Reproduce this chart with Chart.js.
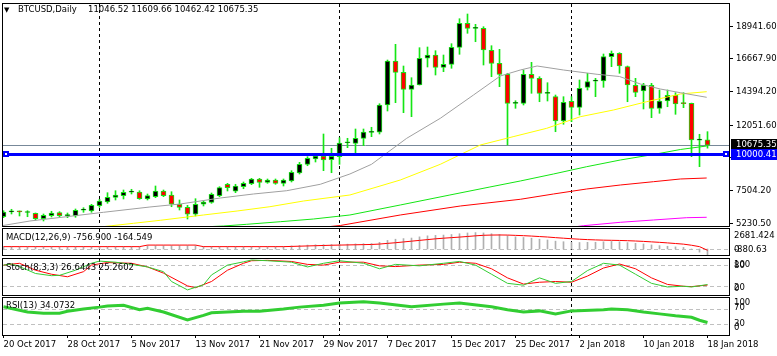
<!DOCTYPE html>
<html>
<head>
<meta charset="utf-8">
<title>BTCUSD Daily</title>
<script src="https://cdn.jsdelivr.net/npm/chart.js@4.4.1/dist/chart.umd.min.js"></script>
<style>
html,body{margin:0;padding:0;background:#fff;}
#wrap{position:relative;width:777px;height:356px;overflow:hidden;background:#fff;}
canvas{position:absolute;left:0;}
</style>
</head>
<body>
<div id="wrap">
<canvas id="cMain" width="777" height="228" style="top:0px"></canvas>
<canvas id="cMacd" width="777" height="30" style="top:226px"></canvas>
<canvas id="cStoch" width="777" height="40" style="top:256px"></canvas>
<canvas id="cRsi" width="777" height="61" style="top:295px"></canvas>
</div>
<script>
// ---------------- data ----------------
const dateLabels = ['20 Oct 2017','28 Oct 2017','5 Nov 2017','13 Nov 2017','21 Nov 2017','29 Nov 2017','7 Dec 2017','15 Dec 2017','25 Dec 2017','2 Jan 2018','10 Jan 2018','18 Jan 2018'];
const dateTickBars = [0,8,16,24,32,40,48,56,64,72,80,88];
const separatorBars = [12,42,71];
const priceTicks = [18941.60,16667.90,14394.20,12051.60,9777.90,7504.20,5230.50];
const bidPrice = 10675.35;
const hLinePrice = 10000.41;

const open  = [5690,6030,6050,5980,5927,5551,5767,5976,5760,5739,6150,6087,6463,6714,7041,7152,7400,7409,6923,7083,7480,7201,6554,6345,5858,6554,6693,7152,7946,7459,7778,7994,8315,8077,8245,8015,8175,8732,9338,9707,9916,9658,9867,10840,10800,11148,11560,11566,13466,16529,15742,14559,14858,16717,16946,16090,16299,17482,19153,18800,18805,17273,16368,15603,13580,13584,15603,15324,14270,14044,12352,13724,13305,14698,15130,15137,16828,17065,16132,14837,14440,14837,13236,13744,14141,13580,13584,11020,11046.52];
const high  = [6108,6206,6090,6108,5950,5879,6067,6039,5948,6227,6317,6553,6901,7361,7500,7549,7598,7500,7271,7828,7549,7430,6853,6484,6944,6804,7340,7778,8015,7946,8106,8363,8363,8315,8315,8315,8893,9476,9867,9985,11447,10452,11189,11148,11795,11795,11914,13556,16598,17691,16180,15366,17455,17503,17246,16946,17733,19473,19800,19083,18916,17594,17343,15673,13765,15902,16438,15436,15018,14162,14044,14044,15206,15673,15324,17016,17225,17107,16180,15324,14976,14976,14510,14510,14322,14322,13600,11427,11609.66];
const low   = [5621,5879,5740,5690,5461,5391,5670,5690,5621,5649,5997,5997,6345,6623,6853,6923,7271,6901,6853,7013,7083,6386,6157,5530,5739,6435,6623,7083,7480,7361,7639,7918,7737,8015,7946,7828,8106,8663,9240,9498,8893,8753,9338,10494,10146,10633,11260,11447,13048,13626,12930,12652,14858,16111,15554,15784,16021,16995,18457,17872,16250,15436,14740,10682,13236,13466,14280,13695,13744,11607,12122,12303,12770,14510,14044,14698,16132,15673,13695,14044,13188,12582,12888,13347,12818,13278,9867,9171,10462.42];
const close = [6018,6045,6030,5995,5551,5788,5948,5767,5775,6136,6165,6484,6783,7041,7201,7389,7415,6944,7152,7480,7152,6554,6345,5858,6554,6714,7250,7709,7709,7828,8015,8315,8077,8245,8015,8245,8781,9338,9756,9916,9637,9895,10820,10870,11148,11587,11575,13466,16529,15742,14559,14858,16717,16946,16090,16299,17482,19153,18805,18810,17294,16368,15603,13584,13595,15603,15324,14280,14285,12352,13654,13305,14628,15088,15145,16828,17065,16180,14858,14350,14837,13236,13744,14141,13535,13560,11030,11046.52,10675.35];

// moving averages: [bar index, value] read at sample positions
const maGray    = [[-0.2,5064],[3.3,5391],[7.9,5691],[12.5,5997],[18.3,6366],[22.1,6575],[27.1,6992],[31.25,7271],[35.4,7500],[39.6,7946],[43.3,8663],[46,9338],[50.4,11148],[54.6,12540],[58.75,14162],[62.1,15485],[64.6,15902],[66.7,16181],[70,15902],[74.2,15603],[77,15450],[79.6,14928],[82.1,14580],[84.6,14322],[87.9,14002]];
const maYellow  = [[10.2,4855],[13.55,5064],[16.25,5231],[19.6,5440],[25,5809],[29.2,6087],[33.3,6386],[37.5,6783],[43.3,7201],[49.6,8245],[54.6,9338],[59.6,10682],[63.7,11259],[67.9,11844],[72.1,12651],[76.25,13118],[80.4,13696],[84.6,14232],[87.9,14392]];
const maGreen   = [[23.3,4938],[27.5,5043],[30.4,5161],[34.6,5342],[38.75,5530],[43.3,5809],[49.6,6505],[55.8,7201],[60.8,7758],[64.6,8176],[68.75,8663],[72.9,9171],[77.1,9637],[81.25,10020],[84.6,10368],[87.9,10612]];
const maRed     = [[39.6,4938],[42.1,5078],[49.6,5809],[57.1,6435],[64.6,6902],[68.75,7271],[72.9,7619],[77.1,7897],[81.25,8127],[84.6,8315],[87.9,8384]];
const maMagenta = [[70.8,4938],[72.5,5064],[77.1,5300],[81.25,5461],[85.4,5621],[87.9,5649]];

// MACD(12,26,9): histogram (main) per bar, signal per bar
const macdMain = [280,280,280,280,280,280,280,280,280,280,280,280,280,280,280,280,280,280,420,420,420,420,420,420,420,280,280,280,280,280,280,280,280,280,280,280,400,450,500,540,560,570,600,620,650,680,700,850,1100,1250,1330,1400,1550,1680,1740,1780,1850,1950,2050,2100,2050,1950,1850,1700,1550,1470,1380,1250,1150,1000,930,850,830,850,860,920,960,920,820,720,640,520,430,350,270,200,-60,-400,-756.9];
const macdSignal = [300,300,300,300,300,300,300,300,300,300,300,300,300,300,300,300,300,300,500,500,500,500,500,500,500,300,300,300,300,300,300,300,300,300,300,300,330,360,390,420,450,480,500,520,540,560,580,630,720,800,900,1000,1100,1200,1300,1380,1450,1520,1600,1680,1750,1780,1790,1780,1740,1700,1650,1590,1530,1450,1380,1310,1250,1200,1160,1130,1110,1090,1060,1020,970,910,850,780,700,620,480,300,-164.549];
const macdScale = {max:2681.424, min:-766};

// Stochastic(8,3,3)
const stochMain = [[0,80],[1,83],[2,76],[4,57],[6,51],[7,52],[9,66],[11,85],[12,91],[14,88],[16,82],[18,75],[20,62],[21,35],[23,12],[25,26],[26,53],[28,80],[30,89],[31,94],[33,92],[36,88],[38,75],[40,85],[42,92],[45,85],[47,70],[49,82],[52,78],[55,85],[57,90],[59,80],[61,55],[63,30],[65,25],[67,45],[69,30],[71,35],[73,65],[75,85],[77,80],[79,55],[81,30],[83,20],[85,22],[86,20],[88,26.6443]];
const stochSignal = [[0,80],[2,85],[4,66],[6,55],[8,48],[10,62],[11,80],[13,87],[16,85],[18,75],[20,58],[23,23],[24,18],[26,35],[28,66],[30,85],[31,92],[33,93],[36,90],[38,82],[40,80],[42,88],[45,88],[47,78],[49,76],[52,80],[55,82],[57,88],[59,85],[61,70],[63,45],[65,28],[67,33],[69,35],[71,33],[73,50],[75,72],[77,83],[79,70],[81,45],[83,27],[85,22],[86,21],[88,25.2602]];

// RSI(13)
const rsi = [[0,76],[3,62],[5,59],[7,59],[8,64],[10,70],[12,75],[13,78],[15,80],[17,68],[18,72],[20,62],[23,41],[25,53],[26,60],[30,64],[32,64],[35,70],[37,75],[40,80],[42,86],[45,89],[47,86],[51,76],[55,83],[57,86],[61,76],[63,68],[65,62],[67,65],[69,57],[71,65],[75,68],[76,70],[78,68],[80,62],[82,57],[84,52],[86,48],[87,40],[88,34.0732]];

// ---------------- rendering ----------------
const FONTFAM = 'DejaVu Sans';
const FONT = '8.5px "DejaVu Sans"';
const GREEN = 'rgb(20,230,20)';
const X_MIN = -0.1875, X_MAX = 90.6875;
const Y_MIN = 5043, Y_MAX = 20566;

Chart.defaults.animation = false;
Chart.defaults.events = [];
Chart.defaults.plugins.legend.display = false;
Chart.defaults.plugins.tooltip.enabled = false;
Chart.defaults.color = '#000';
Chart.defaults.font.family = FONTFAM;
Chart.defaults.font.size = 8.5;

const pts = arr => arr.map(p => ({x:p[0], y:p[1]}));
const idx = open.map((_, i) => i);

function lineDs(data, color, width, order) {
  return {type:'line', data:pts(data), borderColor:color, borderWidth:width, pointRadius:0, fill:false, tension:0, order:order};
}

const framePlugin = {id:'frame', afterDraw(c){
  const a=c.chartArea, x=c.ctx;
  const l=Math.round(a.left), r=Math.round(a.right), t=Math.round(a.top), b=Math.round(a.bottom);
  x.save(); x.fillStyle='#000';
  x.fillRect(l,t,r-l+1,1); x.fillRect(l,b,r-l+1,1);
  x.fillRect(l,t,1,b-t+1); x.fillRect(r,t,1,b-t+1);
  x.restore();
}};
const sepPlugin = {id:'sep', beforeDatasetsDraw(c){
  const a=c.chartArea, x=c.ctx, s=c.scales.x;
  x.save(); x.strokeStyle='#000'; x.lineWidth=1; x.setLineDash([3,3]);
  separatorBars.forEach(b=>{
    const px=Math.floor(s.getPixelForValue(b))+0.5;
    x.beginPath(); x.moveTo(px,a.top+1); x.lineTo(px,a.bottom); x.stroke();
  });
  x.restore();
}};
function levelsPlugin(levels){ return {id:'levels', beforeDatasetsDraw(c){
  const a=c.chartArea, x=c.ctx, s=c.scales.y;
  x.save(); x.strokeStyle='#c0c0c0'; x.lineWidth=1; x.setLineDash([4,3]);
  levels.forEach(v=>{
    const py=Math.floor(s.getPixelForValue(v))+0.5;
    x.beginPath(); x.moveTo(a.left+1,py); x.lineTo(a.right,py); x.stroke();
  });
  x.restore();
}}; }
function textPlugin(items){ return {id:'texts', afterDraw(c){
  const x=c.ctx; x.save(); x.textBaseline='middle'; x.textAlign='left';
  items.forEach(it=>{ x.font=it.font||FONT; x.fillStyle=it.color||'#000'; x.fillText(it.t,it.x,it.y); });
  x.restore();
}}; }

function xOpts(show){
  const o = {type:'linear', min:X_MIN, max:X_MAX, offset:false, display:show,
    grid:{display:show, offset:false, drawOnChartArea:false, drawTicks:true, tickLength:3, color:'#000'},
    border:{display:false}};
  if (show) {
    o.afterBuildTicks = s => { s.ticks = dateTickBars.map(v => ({value:v})); };
    o.ticks = {autoSkip:false, maxRotation:0, minRotation:0, align:'start', padding:2, color:'#000',
      font:{family:FONTFAM, size:8.5}, callback:v => dateLabels[dateTickBars.indexOf(v)]};
    o.afterFit = s => { s.height = 21; s.paddingLeft = 0; s.paddingRight = 0; };
  }
  return o;
}
const baseOpts = {responsive:false, maintainAspectRatio:false, devicePixelRatio:1, animation:false};

// ---- main price chart ----
const mainExtras = {id:'mainExtras',
  beforeDatasetsDraw(c){
    const a=c.chartArea, x=c.ctx, s=c.scales.y;
    const y=Math.floor(s.getPixelForValue(bidPrice))+0.5;
    x.save(); x.strokeStyle='#778899'; x.lineWidth=1;
    x.beginPath(); x.moveTo(a.left,y); x.lineTo(a.right,y); x.stroke(); x.restore();
  },
  afterDraw(c){
    const a=c.chartArea, x=c.ctx, s=c.scales.y;
    x.save();
    const yb=Math.round(s.getPixelForValue(hLinePrice))-1;
    x.fillStyle='#0000ff'; x.fillRect(a.left, yb-1, a.right-a.left, 3);
    // handles
    x.fillStyle='#0000ff'; x.fillRect(3, yb-3, 6, 6); x.fillStyle='#fff'; x.fillRect(5, yb-1, 2, 2);
    x.fillStyle='#0000ff'; x.fillRect(723, yb-3, 6, 6); x.fillStyle='#fff'; x.fillRect(725, yb-1, 2, 2);
    // price boxes
    const yp=s.getPixelForValue(bidPrice);
    x.fillStyle='#000'; x.fillRect(731, Math.round(yp)-6, 46, 11);
    x.fillStyle='#0000ff'; x.fillRect(731, yb-5, 46, 11);
    x.font=FONT; x.textBaseline='middle'; x.textAlign='left'; x.fillStyle='#fff';
    x.fillText(bidPrice.toFixed(2), 736, Math.round(yp)-0.5);
    x.fillText(hLinePrice.toFixed(2), 736, yb+0.5);
    // header
    x.fillStyle='#000'; x.font='7px "DejaVu Sans"'; x.fillText('\u25BC', 4, 10);
    x.font=FONT; x.fillText('BTCUSD,Daily', 18, 10);
    x.fillText(open[88].toFixed(2)+' '+high[88].toFixed(2)+' '+low[88].toFixed(2)+' '+close[88].toFixed(2), 88, 10);
    x.restore();
  }
};

new Chart(document.getElementById('cMain'), {
  type:'bar',
  data:{datasets:[
    lineDs(maGray,'#a0a0a0',1,0),
    lineDs(maYellow,'#ffff00',1,0),
    lineDs(maGreen,GREEN,1,0),
    lineDs(maRed,'#ff0000',1,0),
    lineDs(maMagenta,'#ff00ff',1,0),
    {type:'bar', data:idx.map(i=>({x:i, y:[open[i], close[i]]})),
     backgroundColor:ctx => close[ctx.dataIndex] > open[ctx.dataIndex] ? '#000000' : '#ff0000',
     borderColor:GREEN, borderWidth:1, borderSkipped:false, barThickness:5, minBarLength:1, grouped:false, order:1},
    {type:'bar', data:idx.map(i=>({x:i, y:[low[i], high[i]]})),
     backgroundColor:GREEN, borderWidth:0, barThickness:1, grouped:false, order:2}
  ]},
  options:Object.assign({}, baseOpts, {
    layout:{padding:{left:2, top:3, right:0, bottom:2}},
    scales:{
      x:xOpts(false),
      y:{type:'linear', position:'right', min:Y_MIN, max:Y_MAX,
        afterBuildTicks:s => { s.ticks = priceTicks.map(v => ({value:v})); },
        afterFit:s => { s.width = 48; s.paddingTop = 0; s.paddingBottom = 0; },
        ticks:{autoSkip:false, padding:3, color:'#000', font:{family:FONTFAM, size:8.5}, callback:v => Number(v).toFixed(2)},
        grid:{display:true, drawOnChartArea:false, drawTicks:true, tickLength:4, color:'#000'},
        border:{display:false}}
    }
  }),
  plugins:[sepPlugin, mainExtras, framePlugin]
});

// ---- MACD ----
new Chart(document.getElementById('cMacd'), {
  type:'bar',
  data:{datasets:[
    {type:'line', data:idx.map(i=>({x:i, y:macdSignal[i]})), borderColor:'#ff0000', borderWidth:1, pointRadius:0, fill:false, tension:0, order:0},
    {type:'bar', data:idx.map(i=>({x:i, y:macdMain[i]})), backgroundColor:'#b0b0b0',
     borderWidth:0, barThickness:1, grouped:false, order:1}
  ]},
  options:Object.assign({}, baseOpts, {
    layout:{padding:{left:2, top:2, right:48, bottom:1}},
    scales:{x:xOpts(false), y:{type:'linear', display:false, min:macdScale.min, max:macdScale.max}}
  }),
  plugins:[levelsPlugin([0]), sepPlugin, framePlugin, textPlugin([
    {t:'MACD(12,26,9) -756.900 -164.549', x:6, y:11.5},
    {t:'2681.424', x:734, y:10},
    {t:'-880.63', x:734, y:23.5},
    {t:'0', x:734, y:23.5}
  ])]
});

// ---- Stochastic ----
new Chart(document.getElementById('cStoch'), {
  type:'line',
  data:{datasets:[
    lineDs(stochSignal,'#ff0000',1,1),
    lineDs(stochMain,'#33cc33',1,0)
  ]},
  options:Object.assign({}, baseOpts, {
    layout:{padding:{left:2, top:2, right:48, bottom:1}},
    scales:{x:xOpts(false), y:{type:'linear', display:false, min:-2, max:99.5}}
  }),
  plugins:[levelsPlugin([80,20]), sepPlugin, framePlugin, textPlugin([
    {t:'Stoch(8,3,3) 26.6443 25.2602', x:6, y:12},
    {t:'100', x:734, y:9}, {t:'80', x:734, y:10},
    {t:'20', x:734, y:31.5}, {t:'0', x:734, y:33}
  ])]
});

// ---- RSI ----
new Chart(document.getElementById('cRsi'), {
  type:'line',
  data:{datasets:[ lineDs(rsi,'#32cd32',3,0) ]},
  options:Object.assign({}, baseOpts, {
    layout:{padding:{left:2, top:2, right:48, bottom:0}},
    scales:{x:xOpts(true), y:{type:'linear', display:false, min:0.7, max:102}}
  }),
  plugins:[levelsPlugin([70,30]), sepPlugin, framePlugin, textPlugin([
    {t:'RSI(13) 34.0732', x:6, y:11},
    {t:'100', x:734, y:7.5}, {t:'70', x:734, y:12.5},
    {t:'30', x:734, y:29}, {t:'0', x:734, y:32.5}
  ])]
});
</script>
</body>
</html>
